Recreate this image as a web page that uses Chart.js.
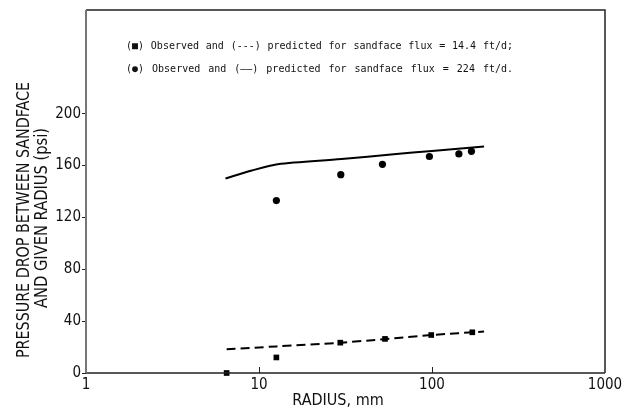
<!DOCTYPE html>
<html>
<head>
<meta charset="utf-8">
<script src="https://cdn.jsdelivr.net/npm/chart.js@4.4.0/dist/chart.umd.min.js"></script>
<style>
  html, body { margin: 0; padding: 0; background: #fff; }
  #wrap { width: 629px; height: 414px; position: relative; }
</style>
</head>
<body>
<div id="wrap"><canvas id="plot"></canvas></div>
<script>
// observed, sandface flux = 224 ft/d (circles)
const obsHighRadius = [12.6, 29.7, 51.7, 96.6, 143, 169];
const obsHighDrop = [133, 153, 161, 167, 169, 171];
// predicted, 224 ft/d (solid line)
const predHighRadius = [6.4, 9, 12.8, 30, 60, 100, 200];
const predHighDrop = [150, 156, 161, 165, 168.8, 171.3, 174.7];

// observed, sandface flux = 14.4 ft/d (squares)
const obsLowRadius = [6.5, 12.6, 29.5, 53.5, 99, 171];
const obsLowDrop = [0, 12, 23.4, 26.3, 29.3, 31.4];
// predicted, 14.4 ft/d (dashed line)
const predLowRadius = [6.5, 12.6, 30, 100, 200];
const predLowDrop = [18.3, 20.5, 23.4, 29.3, 32];

const xTicks = [1, 10, 100, 1000];
const yTicks = [0, 40, 80, 120, 160, 200];

const legendLines = [
  ['(\u25A0)', 'Observed', 'and', '(---)', 'predicted', 'for', 'sandface', 'flux', '=', '14.4', 'ft/d;'],
  ['(\u25CF)', 'Observed', 'and', '(\u2014\u2014)', 'predicted', 'for', 'sandface', 'flux', '=', '224', 'ft/d.']
];

const narrow = '"Liberation Sans Narrow", "DejaVu Sans Condensed", "Liberation Sans", sans-serif';

function pairs(xs, ys) {
  return xs.map((x, i) => ({ x: x, y: ys[i] }));
}

// squeeze a string into a given length along its own direction
function fitText(ctx, text, cx, cy, len, rotate) {
  const w = ctx.measureText(text).width;
  ctx.save();
  ctx.translate(cx, cy);
  if (rotate) ctx.rotate(-Math.PI / 2);
  ctx.scale(Math.min(1, len / w), 1);
  ctx.fillText(text, 0, 0);
  ctx.restore();
}

// frame, inward x ticks, axis titles, legend text
const decorations = {
  id: 'decorations',
  afterDraw(chart) {
    const ctx = chart.ctx;
    const a = chart.chartArea;
    const xs = chart.scales.x;
    ctx.save();
    // frame
    ctx.lineWidth = 1.5;
    ctx.strokeStyle = '#222';
    ctx.beginPath();
    ctx.moveTo(a.left, a.top);
    ctx.lineTo(a.right, a.top);
    ctx.lineTo(a.right, a.bottom);
    ctx.moveTo(a.left, a.bottom);
    ctx.lineTo(a.right, a.bottom);
    ctx.stroke();
    ctx.strokeStyle = '#777';
    ctx.lineWidth = 2;
    ctx.beginPath();
    ctx.moveTo(a.left, a.top);
    ctx.lineTo(a.left, a.bottom);
    ctx.stroke();
    // small inward ticks on the x axis
    ctx.strokeStyle = '#222';
    ctx.lineWidth = 1;
    xTicks.slice(1, -1).forEach(v => {
      const px = Math.round(xs.getPixelForValue(v)) + 0.5;
      ctx.beginPath();
      ctx.moveTo(px, a.bottom);
      ctx.lineTo(px, a.bottom - 6);
      ctx.stroke();
    });

    ctx.fillStyle = '#111';
    ctx.textAlign = 'center';
    ctx.textBaseline = 'middle';
    // x title
    ctx.font = '16px ' + narrow;
    fitText(ctx, 'RADIUS, mm', 338, 401, 97, false);
    // y title
    ctx.font = '17px ' + narrow;
    fitText(ctx, 'PRESSURE DROP BETWEEN SANDFACE', 25, 220, 276, true);
    fitText(ctx, 'AND GIVEN RADIUS (psi)', 43, 218, 180, true);

    // legend lines, words spread like the typewritten original
    ctx.font = '10px "DejaVu Sans Mono", monospace';
    ctx.textAlign = 'left';
    const rows = [46, 69];
    legendLines.forEach((words, r) => {
      const total = words.reduce((s, w) => s + ctx.measureText(w).width, 0);
      const gap = (387 - total) / (words.length - 1);
      let x = 126;
      words.forEach(w => {
        ctx.fillText(w, x, rows[r]);
        x += ctx.measureText(w).width + gap;
      });
    });
    ctx.restore();
  }
};

new Chart(document.getElementById('plot'), {
  type: 'scatter',
  data: {
    datasets: [
      {
        label: 'predicted 224',
        data: pairs(predHighRadius, predHighDrop),
        showLine: true,
        borderColor: '#000',
        borderWidth: 2,
        pointRadius: 0,
        tension: 0.3
      },
      {
        label: 'predicted 14.4',
        data: pairs(predLowRadius, predLowDrop),
        showLine: true,
        borderColor: '#000',
        borderWidth: 2,
        borderDash: [9, 5],
        pointRadius: 0,
        tension: 0.3
      },
      {
        label: 'observed 224',
        data: pairs(obsHighRadius, obsHighDrop),
        pointStyle: 'circle',
        pointRadius: 3.6,
        backgroundColor: '#000',
        borderColor: '#000',
        borderWidth: 0
      },
      {
        label: 'observed 14.4',
        data: pairs(obsLowRadius, obsLowDrop),
        clip: false,
        pointStyle: 'rect',
        pointRadius: 4,
        backgroundColor: '#000',
        borderColor: '#000',
        borderWidth: 0
      }
    ]
  },
  options: {
    responsive: true,
    maintainAspectRatio: false,
    animation: false,
    layout: { padding: { top: 10, right: 24, left: 0, bottom: 0 } },
    plugins: {
      legend: { display: false },
      tooltip: { enabled: false }
    },
    scales: {
      x: {
        type: 'logarithmic',
        min: 1,
        max: 1000,
        afterBuildTicks: s => { s.ticks = xTicks.map(v => ({ value: v })); },
        afterFit: s => { s.height = 41; },
        grid: { display: false, drawTicks: false },
        border: { display: false },
        ticks: {
          color: '#111',
          font: { family: narrow, size: 15 },
          padding: 3,
          maxRotation: 0,
          autoSkip: false,
          callback: v => String(v)
        }
      },
      y: {
        type: 'linear',
        min: 0,
        max: 280,
        afterBuildTicks: s => { s.ticks = yTicks.map(v => ({ value: v })); },
        afterFit: s => { s.width = 86; },
        grid: { drawOnChartArea: false, drawTicks: true, tickLength: 4, color: '#222' },
        border: { display: false },
        ticks: {
          color: '#111',
          font: { family: narrow, size: 15 },
          padding: 1,
          callback: v => String(v)
        }
      }
    }
  },
  plugins: [decorations]
});
</script>
</body>
</html>
